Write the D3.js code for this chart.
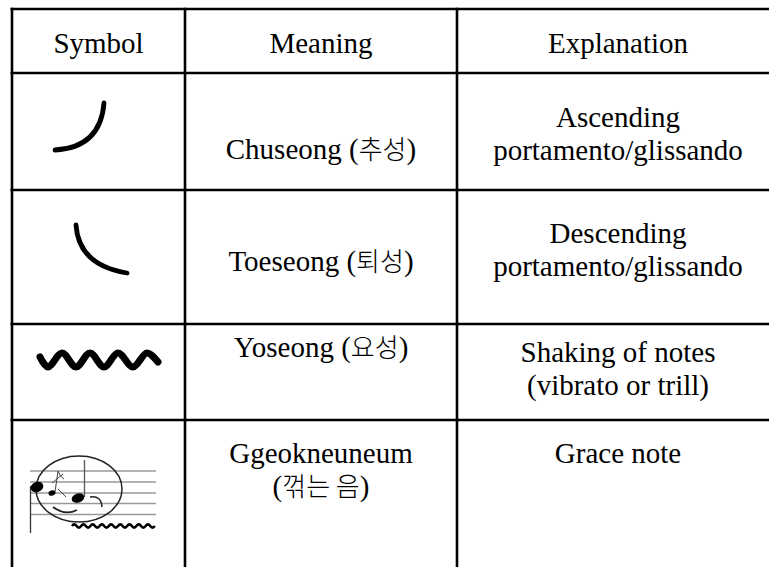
<!DOCTYPE html>
<html>
<head>
<meta charset="utf-8">
<script src="https://cdn.jsdelivr.net/npm/d3@7"></script>
<style>
	body { margin: 0; background: #fff; }
	text { font-family: "Liberation Serif", "Times New Roman", "Noto Sans CJK KR", serif; fill: #000; }
	tspan.ko { font-family: "Noto Sans CJK KR", sans-serif; font-weight: 300; font-size: 26px; }
</style>
</head>
<body>
<div id="table-div"></div>
<script>

// table content
const headers = ["Symbol", "Meaning", "Explanation"];
const symbols = ["chuseong", "toeseong", "yoseong", "ggeokneuneum"];
const meanings = [
	["Chuseong (추성)"],
	["Toeseong (퇴성)"],
	["Yoseong (요성)"],
	["Ggeokneuneum", "(꺾는 음)"]
];
const explanations = [
	["Ascending", "portamento/glissando"],
	["Descending", "portamento/glissando"],
	["Shaking of notes", "(vibrato or trill)"],
	["Grace note"]
];

// layout
const width = 769, height = 567;
const colEdges = [12, 185, 457, 779];
const rowEdges = [9, 73, 190, 324, 420, 640];
const lineH = 33;
// first baseline offset from row top: [meaning, explanation]
const baseOff = [[44, 44], [86, 54], [81, 53], [33, 38], [43, 43]];

let svg = d3.select("#table-div")
			.append("svg")
			.attr("width", width)
			.attr("height", height)
			.attr("viewBox", `0 0 ${width} ${height}`);

const colX = d3.scaleOrdinal()
				.domain([0, 1, 2])
				.range([0, 1, 2].map(i => (colEdges[i] + colEdges[i + 1]) / 2));
const rowY = d3.scaleOrdinal()
				.domain(d3.range(rowEdges.length - 1))
				.range(rowEdges.slice(0, -1));

// header
svg.selectAll("text.header")
	.data(headers)
	.enter()
	.append("text")
	.attr("class", "header")
	.attr("x", (d, i) => colX(i))
	.attr("y", rowY(0) + baseOff[0][0])
	.attr("text-anchor", "middle")
	.style("font-size", "29px")
	.text(d => d);

// hangul goes in its own lighter tspan
function fillText(sel, str) {
	str.split(/([\uAC00-\uD7A3 ]*[\uAC00-\uD7A3])/).forEach(part => {
		if (!part) return;
		sel.append("tspan")
			.attr("class", /[\uAC00-\uD7A3]/.test(part) ? "ko" : null)
			.text(part);
	});
}

function cellText(rows, col, k) {
	let g = svg.append("g");
	rows.forEach((lines, r) => {
		g.selectAll(null)
			.data(lines)
			.enter()
			.append("text")
			.attr("x", colX(col))
			.attr("y", (d, j) => rowY(r + 1) + baseOff[r + 1][k] + j * lineH)
			.attr("text-anchor", "middle")
			.style("font-size", "29px")
			.each(function(d) { fillText(d3.select(this), d); });
	});
}
cellText(meanings, 1, 0);
cellText(explanations, 2, 1);

// symbols, drawn in cell-local coordinates
const glyphs = {
	chuseong: function(g) {
		g.append("path")
			.attr("d", "M43,77 Q88.5,74.5 92,30")
			.attr("fill", "none")
			.attr("stroke", "#000")
			.attr("stroke-width", 4.8)
			.attr("stroke-linecap", "round");
	},
	toeseong: function(g) {
		g.append("path")
			.attr("d", "M64,35 Q66.5,75 115,83")
			.attr("fill", "none")
			.attr("stroke", "#000")
			.attr("stroke-width", 4.8)
			.attr("stroke-linecap", "round");
	},
	yoseong: function(g) {
		const pts = [[28, 33], [36, 43], [50, 29], [64, 43], [78, 29], [92, 43], [106, 29], [121, 43], [135, 29], [146, 38]];
		g.append("path")
			.attr("d", d3.line().curve(d3.curveCatmullRom)(pts))
			.attr("fill", "none")
			.attr("stroke", "#000")
			.attr("stroke-width", 7)
			.attr("stroke-linecap", "round");
	},
	ggeokneuneum: function(g) {
		const staff = [51, 62, 73, 83.5, 94.5];
		g.selectAll("line.staff")
			.data(staff)
			.enter()
			.append("line")
			.attr("x1", 18).attr("x2", 144)
			.attr("y1", d => d).attr("y2", d => d)
			.attr("stroke", "#999")
			.attr("stroke-width", 1.5);
		g.append("line")
			.attr("x1", 18.5).attr("x2", 18.5).attr("y1", 66).attr("y2", 113)
			.attr("stroke", "#333").attr("stroke-width", 1.3);
		g.append("ellipse")
			.attr("cx", 67).attr("cy", 69).attr("rx", 43).attr("ry", 33)
			.attr("fill", "none").attr("stroke", "#222").attr("stroke-width", 1.5);
		g.append("ellipse")
			.attr("transform", "translate(25,67) rotate(-20)")
			.attr("rx", 6.5).attr("ry", 5).attr("fill", "#000");
		g.append("ellipse")
			.attr("transform", "translate(40,73) rotate(-20)")
			.attr("rx", 3.6).attr("ry", 2.6).attr("fill", "#000");
		g.append("path")
			.attr("d", "M43,72 L46,51 Q48,57 52,59 M40,63 L51,54 M46,69 L54,77")
			.attr("fill", "none").attr("stroke", "#444").attr("stroke-width", 1);
		g.append("ellipse")
			.attr("transform", "translate(66,78) rotate(-20)")
			.attr("rx", 6.5).attr("ry", 4.5).attr("fill", "#000");
		g.append("line")
			.attr("x1", 72.5).attr("x2", 72.5).attr("y1", 77).attr("y2", 40)
			.attr("stroke", "#555").attr("stroke-width", 1.3);
		g.append("path")
			.attr("d", "M78,77 Q89,75 90,87")
			.attr("fill", "none").attr("stroke", "#222").attr("stroke-width", 1.5);
		g.append("path")
			.attr("d", "M41,87 Q53,96 65,90")
			.attr("fill", "none").attr("stroke", "#222").attr("stroke-width", 1.8);
		g.append("path")
			.attr("d", "M60,106" + " q2.3,-3.2 4.6,0 q2.3,3.2 4.6,0".repeat(9))
			.attr("fill", "none").attr("stroke", "#000").attr("stroke-width", 2.6);
	}
};

symbols.forEach((s, r) => {
	let g = svg.append("g")
			.attr("transform", `translate(${colEdges[0]}, ${rowY(r + 1)})`);
	glyphs[s](g);
});

// grid lines
svg.selectAll("line.h")
	.data(rowEdges.slice(0, -1))
	.enter()
	.append("line")
	.attr("x1", colEdges[0] - 1.5)
	.attr("x2", colEdges[3])
	.attr("y1", d => d)
	.attr("y2", d => d)
	.attr("stroke", "#000")
	.attr("stroke-width", 2.6);

svg.selectAll("line.v")
	.data(colEdges.slice(0, -1))
	.enter()
	.append("line")
	.attr("x1", d => d)
	.attr("x2", d => d)
	.attr("y1", rowEdges[0] - 1.3)
	.attr("y2", height + 10)
	.attr("stroke", "#000")
	.attr("stroke-width", 2.6);

</script>
</body>
</html>
